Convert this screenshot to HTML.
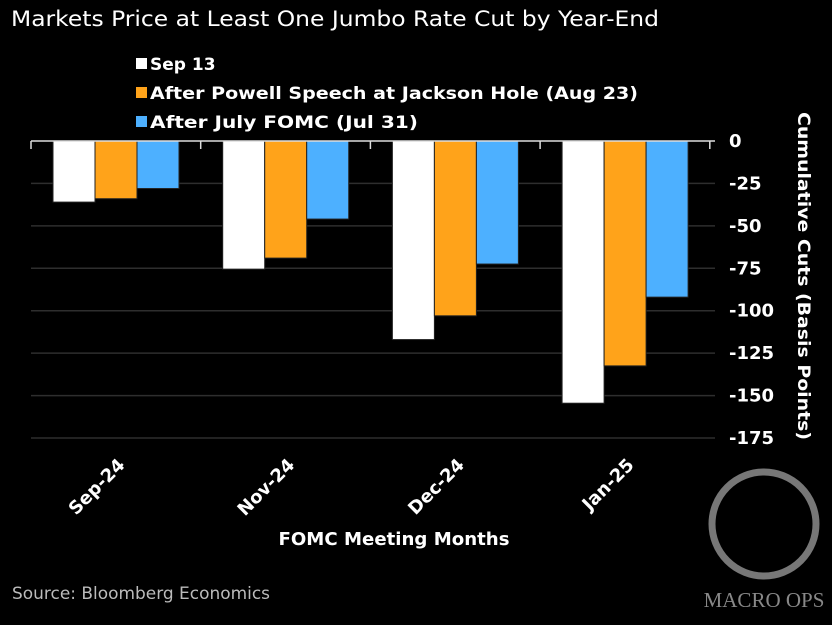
<!DOCTYPE html>
<html><head><meta charset="utf-8"><style>
body{margin:0;background:#000;width:832px;height:620px;overflow:hidden;}
svg text{font-family:"DejaVu Sans","Liberation Sans",sans-serif;}
</style></head><body>
<svg id="chart" width="832" height="620" xmlns="http://www.w3.org/2000/svg">
<rect width="832" height="620" fill="#000"/>
<text x="11" y="26" fill="#fff" font-size="21" textLength="648" lengthAdjust="spacingAndGlyphs">Markets Price at Least One Jumbo Rate Cut by Year-End</text>
<g>
<rect x="136" y="58" width="11" height="11" fill="#fff"/>
<text x="150" y="70" fill="#fff" font-size="17" font-weight="bold">Sep 13</text>
<rect x="136" y="87" width="11" height="11" fill="#ffa31a"/>
<text x="150" y="99" fill="#fff" font-size="17" font-weight="bold" textLength="488" lengthAdjust="spacingAndGlyphs">After Powell Speech at Jackson Hole (Aug 23)</text>
<rect x="136" y="116" width="11" height="11" fill="#4db0ff"/>
<text x="150" y="128" fill="#fff" font-size="17" font-weight="bold" textLength="268" lengthAdjust="spacingAndGlyphs">After July FOMC (Jul 31)</text>
</g>
<g id="grid"></g><g id="bars"></g><g id="axes"></g>
<text x="394" y="545" fill="#fff" font-size="18" font-weight="bold" text-anchor="middle" textLength="231" lengthAdjust="spacingAndGlyphs">FOMC Meeting Months</text>
<text transform="translate(798,276) rotate(90)" fill="#fff" font-size="17" font-weight="bold" text-anchor="middle" textLength="328" lengthAdjust="spacingAndGlyphs">Cumulative Cuts (Basis Points)</text>
<text x="12" y="599" fill="#bbb" font-size="17" textLength="258" lengthAdjust="spacingAndGlyphs">Source: Bloomberg Economics</text>
<g>
<circle cx="764" cy="524" r="52" fill="none" stroke="#777" stroke-width="7"/>
<text x="764" y="607" fill="#888" font-size="21" text-anchor="middle" style="font-family:'Liberation Serif',serif">MACRO OPS</text>
</g>
</svg>
<script>
const categories=["Sep-24","Nov-24","Dec-24","Jan-25"];
const sep13=[-36,-75.5,-117,-154.5];
const aug23=[-34,-69,-103,-132.5];
const jul31=[-28,-46,-72.5,-92];
const yTicks=[0,-25,-50,-75,-100,-125,-150,-175];
const NS="http://www.w3.org/2000/svg";
const plotL=31,plotR=715,y0=141,pxPer=(438-141)/175;
const y=v=>y0-v*pxPer;
const groupW=169.7;
const x=i=>plotL+groupW*i;
function mk(t,a,p){const e=document.createElementNS(NS,t);for(const k in a)e.setAttribute(k,a[k]);p.appendChild(e);return e;}
const grid=document.getElementById('grid'),bars=document.getElementById('bars'),axes=document.getElementById('axes');
yTicks.forEach(v=>{
 if(v!==0){const l=mk('line',{x1:plotL,x2:plotR,y1:y(v),y2:y(v),stroke:'#2e2e2e','stroke-width':1.5},grid);
 
 }
 const t=mk('text',{x:729,y:y(v)+6,fill:'#fff','font-size':18,'font-weight':'bold','text-anchor':'start'},axes);
 t.textContent=v;
 
 
});
const series=[[sep13,'#ffffff'],[aug23,'#ffa31a'],[jul31,'#4db0ff']];
const bw=42,off=22;
categories.forEach((c,i)=>{
 series.forEach((s,j)=>{
  const v=s[0][i];
  const r=mk('rect',{x:x(i)+off+j*bw,y:y0,width:bw,height:y(v)-y0,fill:s[1],stroke:'#222','stroke-width':1},bars);
  
  
 });
 const cx=x(i)+groupW/2;
 const t=mk('text',{transform:`translate(${cx+10},${466}) rotate(-45)`,fill:'#fff','font-size':18,'font-weight':'bold','text-anchor':'end'},axes);
 t.textContent=c;
 
 
});
const zl=mk('line',{x1:plotL,x2:plotR,y1:y0,y2:y0,stroke:'#ddd','stroke-width':1.5},axes);


for(let i=0;i<=categories.length;i++){
 const tk=mk('line',{x1:x(i),x2:x(i),y1:y0,y2:y0+8,stroke:'#ddd','stroke-width':1.5},axes);
 
 
}
</script>
</body></html>
